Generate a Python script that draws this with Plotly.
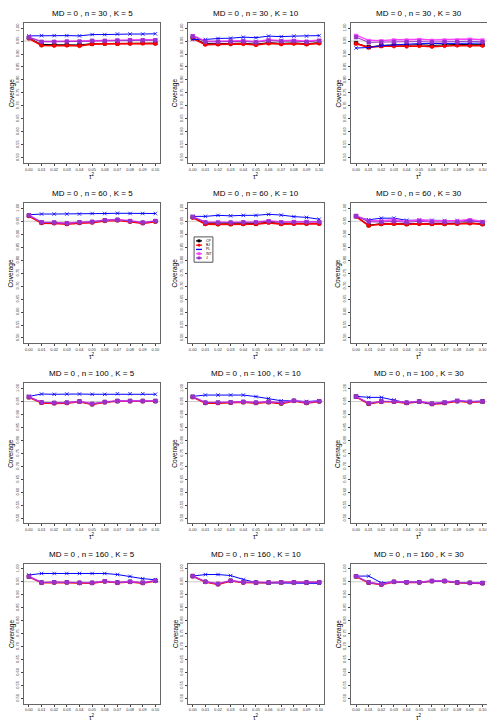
import plotly.graph_objects as go

# tau^2 grid shared by every panel
tau2 = [0.00, 0.01, 0.02, 0.03, 0.04, 0.05, 0.06, 0.07, 0.08, 0.09, 0.10]
y_ticks = [0.50, 0.55, 0.60, 0.65, 0.70, 0.75, 0.80, 0.85, 0.90, 0.95, 1.00]

methods = ["CP", "BJ", "PL", "INT", "J"]
colors = {"CP": "black", "BJ": "red", "PL": "blue", "INT": "#FF40FF", "J": "#9932CC"}
symbols = {"CP": "square", "BJ": "circle", "PL": "x-thin", "INT": "triangle-down", "J": "square"}
widths = {"CP": 1.0, "BJ": 1.6, "PL": 1.0, "INT": 1.3, "J": 1.0}

titles = [
    "MD = 0 , n = 30 , K = 5", "MD = 0 , n = 30 , K = 10", "MD = 0 , n = 30 , K = 30",
    "MD = 0 , n = 60 , K = 5", "MD = 0 , n = 60 , K = 10", "MD = 0 , n = 60 , K = 30",
    "MD = 0 , n = 100 , K = 5", "MD = 0 , n = 100 , K = 10", "MD = 0 , n = 100 , K = 30",
    "MD = 0 , n = 160 , K = 5", "MD = 0 , n = 160 , K = 10", "MD = 0 , n = 160 , K = 30",
]

# coverage per panel (row-major), per method
cp = [
    [0.962, 0.937, 0.936, 0.936, 0.935, 0.940, 0.941, 0.941, 0.942, 0.943, 0.942],
    [0.963, 0.940, 0.940, 0.941, 0.942, 0.938, 0.944, 0.941, 0.943, 0.940, 0.944],
    [0.942, 0.927, 0.933, 0.935, 0.934, 0.936, 0.933, 0.936, 0.937, 0.936, 0.936],
    [0.972, 0.945, 0.944, 0.941, 0.945, 0.947, 0.953, 0.955, 0.950, 0.944, 0.950],
    [0.966, 0.941, 0.940, 0.940, 0.941, 0.941, 0.947, 0.941, 0.942, 0.942, 0.942],
    [0.970, 0.935, 0.941, 0.942, 0.940, 0.942, 0.941, 0.941, 0.942, 0.944, 0.940],
    [0.967, 0.946, 0.944, 0.945, 0.950, 0.940, 0.948, 0.952, 0.952, 0.952, 0.952],
    [0.968, 0.945, 0.945, 0.946, 0.948, 0.945, 0.948, 0.943, 0.953, 0.945, 0.951],
    [0.969, 0.942, 0.950, 0.950, 0.945, 0.950, 0.941, 0.945, 0.952, 0.948, 0.950],
    [0.970, 0.947, 0.948, 0.948, 0.946, 0.946, 0.952, 0.947, 0.950, 0.946, 0.954],
    [0.972, 0.950, 0.941, 0.954, 0.948, 0.947, 0.947, 0.948, 0.948, 0.947, 0.948],
    [0.971, 0.947, 0.940, 0.950, 0.948, 0.948, 0.953, 0.953, 0.947, 0.946, 0.945],
]
bj = [
    [0.960, 0.933, 0.932, 0.933, 0.931, 0.938, 0.939, 0.939, 0.940, 0.941, 0.940],
    [0.960, 0.936, 0.937, 0.938, 0.939, 0.935, 0.941, 0.938, 0.940, 0.937, 0.941],
    [0.940, 0.925, 0.930, 0.930, 0.929, 0.931, 0.928, 0.931, 0.933, 0.932, 0.932],
    [0.970, 0.943, 0.942, 0.939, 0.943, 0.945, 0.951, 0.953, 0.948, 0.942, 0.948],
    [0.964, 0.939, 0.938, 0.938, 0.939, 0.939, 0.944, 0.939, 0.940, 0.940, 0.940],
    [0.968, 0.933, 0.939, 0.940, 0.938, 0.940, 0.939, 0.939, 0.940, 0.942, 0.938],
    [0.966, 0.945, 0.943, 0.944, 0.949, 0.939, 0.947, 0.951, 0.951, 0.951, 0.951],
    [0.967, 0.944, 0.944, 0.945, 0.947, 0.944, 0.947, 0.942, 0.952, 0.944, 0.950],
    [0.968, 0.941, 0.949, 0.949, 0.944, 0.949, 0.940, 0.944, 0.951, 0.947, 0.949],
    [0.969, 0.946, 0.947, 0.947, 0.945, 0.945, 0.951, 0.946, 0.949, 0.945, 0.953],
    [0.971, 0.949, 0.940, 0.953, 0.947, 0.946, 0.946, 0.947, 0.947, 0.946, 0.947],
    [0.970, 0.946, 0.939, 0.949, 0.947, 0.947, 0.952, 0.952, 0.946, 0.945, 0.944],
]
pl = [
    [0.970, 0.971, 0.971, 0.971, 0.970, 0.975, 0.975, 0.977, 0.977, 0.977, 0.978],
    [0.956, 0.956, 0.960, 0.961, 0.965, 0.963, 0.969, 0.967, 0.969, 0.969, 0.971],
    [0.923, 0.925, 0.932, 0.936, 0.938, 0.940, 0.940, 0.941, 0.942, 0.942, 0.942],
    [0.975, 0.978, 0.978, 0.978, 0.978, 0.980, 0.980, 0.981, 0.980, 0.980, 0.980],
    [0.969, 0.969, 0.973, 0.971, 0.973, 0.973, 0.977, 0.974, 0.968, 0.965, 0.958],
    [0.968, 0.956, 0.962, 0.962, 0.954, 0.955, 0.954, 0.953, 0.953, 0.953, 0.949],
    [0.970, 0.979, 0.978, 0.979, 0.979, 0.978, 0.978, 0.980, 0.980, 0.980, 0.978],
    [0.970, 0.975, 0.975, 0.975, 0.975, 0.969, 0.962, 0.953, 0.953, 0.950, 0.953],
    [0.970, 0.966, 0.966, 0.956, 0.945, 0.950, 0.940, 0.947, 0.954, 0.950, 0.952],
    [0.976, 0.982, 0.982, 0.982, 0.982, 0.982, 0.982, 0.978, 0.971, 0.962, 0.958],
    [0.972, 0.978, 0.978, 0.974, 0.959, 0.947, 0.946, 0.946, 0.946, 0.944, 0.944],
    [0.972, 0.972, 0.946, 0.950, 0.948, 0.950, 0.953, 0.953, 0.947, 0.945, 0.945],
]
intv = [
    [0.965, 0.949, 0.949, 0.950, 0.950, 0.953, 0.953, 0.954, 0.955, 0.955, 0.955],
    [0.972, 0.950, 0.950, 0.951, 0.952, 0.948, 0.955, 0.952, 0.953, 0.950, 0.954],
    [0.973, 0.953, 0.952, 0.955, 0.955, 0.957, 0.954, 0.955, 0.955, 0.958, 0.955],
    [0.974, 0.947, 0.946, 0.943, 0.947, 0.949, 0.955, 0.957, 0.952, 0.946, 0.952],
    [0.968, 0.948, 0.947, 0.947, 0.948, 0.948, 0.952, 0.948, 0.949, 0.949, 0.949],
    [0.972, 0.952, 0.952, 0.956, 0.950, 0.956, 0.952, 0.952, 0.952, 0.957, 0.950],
    [0.969, 0.947, 0.946, 0.946, 0.951, 0.942, 0.949, 0.953, 0.953, 0.953, 0.953],
    [0.969, 0.947, 0.947, 0.948, 0.950, 0.947, 0.950, 0.946, 0.954, 0.947, 0.952],
    [0.970, 0.944, 0.951, 0.951, 0.947, 0.951, 0.943, 0.947, 0.953, 0.950, 0.951],
    [0.971, 0.948, 0.949, 0.949, 0.947, 0.947, 0.953, 0.948, 0.951, 0.947, 0.955],
    [0.973, 0.951, 0.943, 0.955, 0.949, 0.948, 0.948, 0.949, 0.949, 0.948, 0.949],
    [0.972, 0.948, 0.941, 0.951, 0.949, 0.949, 0.954, 0.954, 0.948, 0.947, 0.946],
]
jk = [
    [0.964, 0.947, 0.947, 0.948, 0.948, 0.951, 0.951, 0.952, 0.953, 0.953, 0.953],
    [0.968, 0.947, 0.947, 0.948, 0.949, 0.945, 0.952, 0.949, 0.950, 0.947, 0.951],
    [0.965, 0.945, 0.946, 0.947, 0.947, 0.948, 0.946, 0.947, 0.947, 0.949, 0.947],
    [0.973, 0.946, 0.945, 0.942, 0.946, 0.948, 0.954, 0.956, 0.951, 0.945, 0.951],
    [0.967, 0.946, 0.945, 0.945, 0.946, 0.946, 0.950, 0.946, 0.947, 0.947, 0.947],
    [0.970, 0.948, 0.947, 0.950, 0.946, 0.950, 0.947, 0.947, 0.947, 0.951, 0.946],
    [0.968, 0.947, 0.945, 0.946, 0.950, 0.941, 0.948, 0.952, 0.952, 0.952, 0.952],
    [0.968, 0.946, 0.946, 0.947, 0.949, 0.946, 0.949, 0.945, 0.953, 0.946, 0.951],
    [0.969, 0.943, 0.950, 0.950, 0.946, 0.950, 0.942, 0.946, 0.952, 0.949, 0.950],
    [0.970, 0.947, 0.948, 0.948, 0.946, 0.946, 0.952, 0.947, 0.950, 0.946, 0.954],
    [0.972, 0.950, 0.942, 0.954, 0.948, 0.947, 0.947, 0.948, 0.948, 0.947, 0.948],
    [0.971, 0.947, 0.940, 0.950, 0.948, 0.948, 0.953, 0.953, 0.947, 0.946, 0.945],
]
series = {"CP": cp, "BJ": bj, "PL": pl, "INT": intv, "J": jk}

# the page body has an 8px margin, so the figure is a bit smaller than the window
W, H = 487, 718
col_left = [17, 182.5, 347.5]
box_w = 138
row_top = [18, 199.5, 381, 562.5]
box_h = 141


def px(x):
    # reference pixel -> paper fraction
    return (x - 1) * (W / 492) / W


def py(y):
    return 1 - (y - 3) * (H / 723) / H


fig = go.Figure()
annotations = []
shapes = []
for i in range(12):
    r, c = divmod(i, 3)
    n = i + 1
    xa = "x" if n == 1 else f"x{n}"
    ya = "y" if n == 1 else f"y{n}"
    left, top = col_left[c], row_top[r]
    x0, x1 = px(left), px(left + box_w)
    y0, y1 = py(top + box_h), py(top)

    for m in methods:
        fig.add_trace(go.Scatter(
            x=tau2, y=series[m][i], xaxis=xa, yaxis=ya,
            mode="lines+markers", name=m,
            line=dict(color=colors[m], width=widths[m]),
            marker=dict(symbol=symbols[m], size=3.5, color=colors[m],
                        line=dict(color=colors[m], width=0.8)),
            showlegend=False,
        ))

    axis_common = dict(showgrid=False, zeroline=False, showline=True, mirror=True,
                       linecolor="#666", linewidth=1, ticks="outside", ticklen=2,
                       tickcolor="#444", tickfont=dict(size=4, color="#333"),
                       automargin=False)
    fig.layout[f"xaxis{'' if n == 1 else n}"] = dict(
        domain=[x0, x1], anchor=ya, range=[-0.004, 0.104],
        tickvals=tau2, ticktext=[f"{v:.2f}" for v in tau2],
        tickangle=0, **axis_common)
    fig.layout[f"yaxis{'' if n == 1 else n}"] = dict(
        domain=[y0, y1], anchor=xa, range=[0.48, 1.02],
        tickvals=y_ticks, ticktext=[f"{v:.2f}" for v in y_ticks],
        tickangle=-90, **axis_common)

    shapes.append(dict(type="line", xref=f"{xa} domain", yref=ya, x0=0, x1=1,
                       y0=0.95, y1=0.95, line=dict(color="#cccccc", width=1),
                       layer="below"))
    annotations.append(dict(text=titles[i], xref="paper", yref="paper",
                            x=(x0 + x1) / 2, y=py(top - 9.5),
                            showarrow=False, font=dict(size=8, color="black"),
                            xanchor="center", yanchor="middle"))
    annotations.append(dict(text="Coverage", xref="paper", yref="paper",
                            x=px(left - 12.5), y=(y0 + y1) / 2, textangle=-90,
                            showarrow=False, font=dict(size=6.5, color="black"),
                            xanchor="center", yanchor="middle"))
    annotations.append(dict(text="τ<sup>2</sup>", xref="paper", yref="paper",
                            x=(x0 + x1) / 2, y=py(top + box_h + 13),
                            showarrow=False, font=dict(size=6.5, color="black"),
                            xanchor="center", yanchor="middle"))

# small legend box inside the (n = 60, K = 10) panel
leg_l, leg_r, leg_t, leg_b = 189, 208, 233.5, 259
shapes.append(dict(type="rect", xref="paper", yref="paper",
                   x0=px(leg_l), x1=px(leg_r), y0=py(leg_b), y1=py(leg_t),
                   line=dict(color="#555", width=1), fillcolor="white"))
for k, m in enumerate(methods):
    yy = leg_t + 4 + k * 4.3
    shapes.append(dict(type="line", xref="paper", yref="paper",
                       x0=px(leg_l + 2), x1=px(leg_l + 8), y0=py(yy), y1=py(yy),
                       line=dict(color=colors[m], width=1.3)))
    if m != "PL":
        shapes.append(dict(type="circle" if m == "BJ" else "rect",
                           xref="paper", yref="paper",
                           x0=px(leg_l + 3.8), x1=px(leg_l + 6.2),
                           y0=py(yy + 1.2), y1=py(yy - 1.2),
                           line=dict(color=colors[m], width=0.5),
                           fillcolor=colors[m]))
    annotations.append(dict(text=m, xref="paper", yref="paper",
                            x=px(leg_l + 10), y=py(yy), showarrow=False,
                            font=dict(size=3.5, color="black"),
                            xanchor="left", yanchor="middle"))

fig.update_layout(
    width=W, height=H,
    margin=dict(l=0, r=0, t=0, b=0),
    paper_bgcolor="white", plot_bgcolor="white",
    font=dict(family="Liberation Sans, Arial, sans-serif", color="black"),
    annotations=annotations, shapes=shapes,
    showlegend=False,
)

fig.write_html("out.html")
